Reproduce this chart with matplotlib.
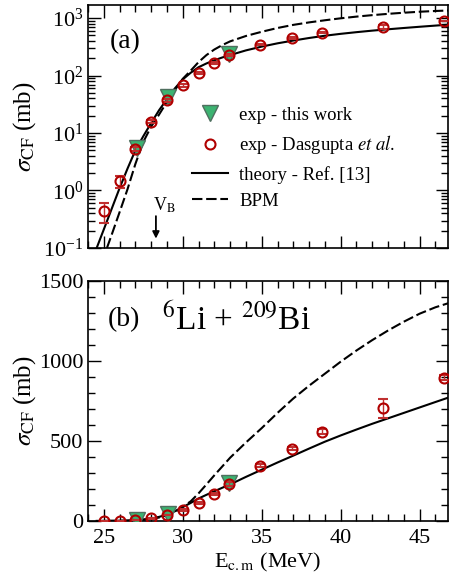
import numpy as np
import matplotlib
matplotlib.use("Agg")
import matplotlib.pyplot as plt
from matplotlib.lines import Line2D
from matplotlib.ticker import MultipleLocator, LogLocator

plt.rcParams['font.family'] = ['Liberation Serif', 'DejaVu Serif']
plt.rcParams['mathtext.fontset'] = 'stix'

# exp - Dasgupta et al.
e_das = [25.0, 26.05, 27.0, 28.0, 29.0, 30.0, 31.0, 31.95, 32.95, 34.9, 36.9, 38.8, 42.7, 46.55]
s_das = [0.44, 1.45, 5.3, 15.7, 37, 68, 112, 168, 230, 345, 452, 557, 703, 894]
err_das = [0.17, 0.35, 0.4, 1.0, 2, 4, 5, 8, 10, 10, 12, 15, 58, 15]

# exp - this work
e_tw = [27.1, 29.05, 32.9]
s_tw = [5.5, 42, 235]

# theory - Ref. [13]
e_th = [24.55, 25.0, 25.5, 26.0, 26.5, 27.0, 27.5, 28.0, 28.5, 29.0, 29.5, 30.0, 30.5,
        31.0, 31.5, 32.0, 32.5, 33.0, 34.0, 35.0, 36.0, 37.0, 38.0, 39.0, 40.0, 41.0,
        42.0, 43.0, 44.0, 45.0, 46.0, 46.8]
s_th = [0.1, 0.21, 0.48, 1.1, 2.4, 5.0, 8.8, 15, 25, 39, 60, 86, 112,
        140, 163, 185, 207, 228, 275, 320, 365, 408, 452, 495, 534, 571,
        607, 641, 675, 709, 743, 770]

# BPM
e_bpm = [25.2, 25.5, 26.0, 26.5, 27.0, 27.5, 28.0, 28.5, 29.0, 29.5, 30.0, 30.5,
         31.0, 31.5, 32.0, 32.5, 33.0, 34.0, 35.0, 36.0, 37.0, 38.0, 39.0, 40.0,
         41.0, 42.0, 43.0, 44.0, 45.0, 46.0, 46.8]
s_bpm = [0.1, 0.17, 0.42, 1.05, 2.9, 7.0, 13, 21, 35, 56, 88, 122,
         172, 228, 285, 340, 395, 490, 580, 675, 765, 845, 920, 995,
         1065, 1130, 1190, 1245, 1295, 1335, 1360]

red = '#b00000'
green = '#3cb371'

fig = plt.figure(figsize=(4.49, 5.82), dpi=100)
ax1 = fig.add_axes([0.196, 0.574, 0.802, 0.4175])
ax2 = fig.add_axes([0.196, 0.105, 0.802, 0.4124])

for ax in (ax1, ax2):
    ax.plot(e_th, s_th, color='black', lw=1.5)
    ax.plot(e_bpm, s_bpm, color='black', lw=1.5, dashes=[5, 1.8])
    ax.errorbar(e_das, s_das, yerr=err_das, fmt='o', ms=7.2, mfc='none', mec=red,
                mew=1.5, ecolor='#c03030', elinewidth=1.0, capsize=3.6, zorder=4)
    ax.plot(e_tw, s_tw, 'v', ms=11, mfc=green, mec='#4f6f5f', mew=1.0, zorder=3)
    ax.set_xlim(24, 46.8)
    ax.xaxis.set_major_locator(MultipleLocator(5))
    ax.xaxis.set_minor_locator(MultipleLocator(1))
    ax.tick_params(which='both', direction='in', top=True, right=True, labelsize=16, width=1.0)
    ax.tick_params(which='major', length=9)
    ax.tick_params(which='minor', length=5)
    ax.tick_params(axis='x', pad=6)
    for sp in ax.spines.values():
        sp.set_linewidth(1.2)

# top panel
ax1.set_yscale('log')
ax1.set_ylim(0.1, 1700)
ax1.yaxis.set_major_locator(LogLocator(base=10, numticks=10))
ax1.yaxis.set_minor_locator(LogLocator(base=10, subs=np.arange(2, 10), numticks=10))
ax1.tick_params(labelbottom=False)
ax1.set_ylabel(r'$\sigma_{\rm CF}$ (mb)', fontsize=18)
ax1.yaxis.set_label_coords(-0.14, 0.5)
ax1.text(0.06, 0.85, '(a)', transform=ax1.transAxes, fontsize=20, ha='left', va='center')
ax1.annotate('', xy=(28.3, 0.13), xytext=(28.3, 0.4),
             arrowprops=dict(arrowstyle='-|>', color='black', lw=1.3, mutation_scale=10))
ax1.text(28.1, 0.55, r'V$_{\rm B}$', fontsize=13, ha='left', va='center')

handles = [
    Line2D([], [], ls='none', marker='v', ms=11, mfc=green, mec='#4f6f5f', mew=1.0),
    Line2D([], [], ls='none', marker='o', ms=7.2, mfc='none', mec=red, mew=1.5),
    Line2D([], [], color='black', lw=1.5),
    Line2D([], [], color='black', lw=1.5, dashes=[5, 1.8]),
]
labels = ['exp - this work', r'exp - Dasgupta $\it{et\ al.}$', 'theory - Ref. [13]', 'BPM']
ax1.legend(handles, labels, loc='upper left', bbox_to_anchor=(0.253, 0.635), frameon=False,
           fontsize=13.5, handlelength=1.9, handletextpad=0.6, labelspacing=0.5,
           borderpad=0.2)

# bottom panel
ax2.set_ylim(0, 1500)
ax2.yaxis.set_major_locator(MultipleLocator(500))
ax2.yaxis.set_minor_locator(MultipleLocator(100))
ax2.set_ylabel(r'$\sigma_{\rm CF}$ (mb)', fontsize=18)
ax2.yaxis.set_label_coords(-0.14, 0.5)
ax2.set_xlabel(r'E$_{\rm c.m}$ (MeV)', fontsize=16, labelpad=2)
ax2.text(0.055, 0.84, '(b)', transform=ax2.transAxes, fontsize=20, ha='left', va='center')
ax2.text(0.205, 0.84, r'$^{6}$Li + $^{209}$Bi', transform=ax2.transAxes, fontsize=24,
         ha='left', va='center')

fig.savefig('out.png', dpi=100)
